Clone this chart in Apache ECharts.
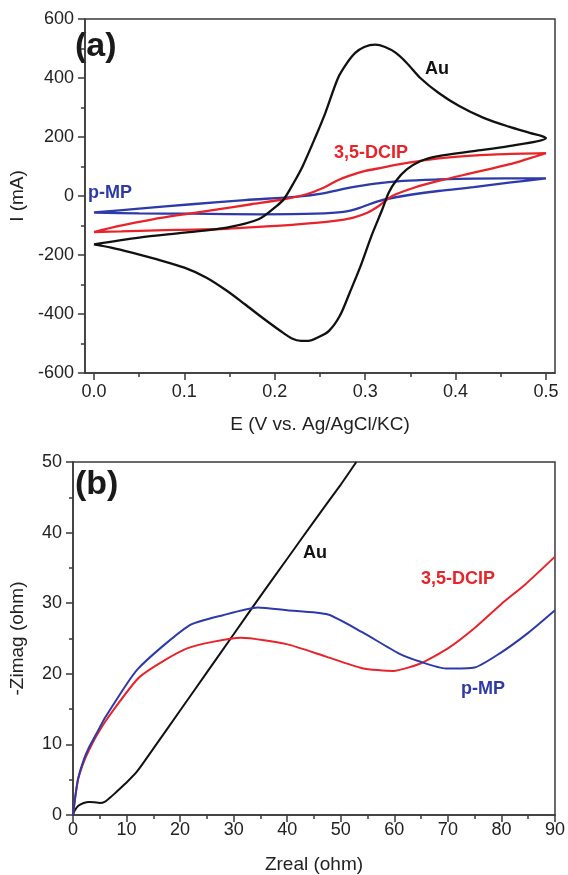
<!DOCTYPE html>
<html>
<head>
<meta charset="utf-8">
<script src="https://cdn.jsdelivr.net/npm/echarts@6/dist/echarts.min.js"></script>
<style>html,body{margin:0;padding:0;background:#fff;}#c{width:568px;height:875px;}</style>
</head>
<body>
<div id="c"></div>
<script>
// ---------- Panel (a): cyclic voltammograms ----------
const cvXTicks = [0, 0.1, 0.2, 0.3, 0.4, 0.5];
const cvXMinorTicks = [0.05, 0.15, 0.25, 0.35, 0.45];
const cvAu = [
  [0,-164],[0.05,-141],[0.1,-124],[0.147,-107],[0.182,-79],[0.202,-34],[0.21,-11],[0.221,45],[0.231,102],
  [0.245,200],[0.256,282],[0.27,400],[0.28,451],[0.289,485],[0.299,505],[0.311,513],[0.322,505],[0.334,485],
  [0.346,451],[0.361,400],[0.381,350],[0.404,305],[0.431,265],[0.459,235],[0.482,214],[0.5,197],
  [0.459,169],[0.42,152],[0.381,135],[0.361,118],[0.346,90],[0.334,51],[0.326,11],[0.319,-45],[0.307,-135],
  [0.295,-237],[0.283,-327],[0.272,-406],[0.26,-457],[0.248,-479],[0.237,-491],[0.229,-491],[0.219,-483],
  [0.206,-457],[0.186,-412],[0.167,-367],[0.147,-321],[0.124,-276],[0.1,-243],[0.069,-214],[0.042,-192],
  [0.019,-175],[0,-164]
];
const cvDCIP = [
  [0,-122],[0.028,-101],[0.065,-79],[0.1,-62],[0.137,-45],[0.174,-28],[0.21,-11],[0.235,6],[0.254,28],
  [0.268,51],[0.282,68],[0.3,85],[0.319,96],[0.337,107],[0.373,124],[0.41,135],[0.446,141],[0.5,145],
  [0.478,124],[0.459,107],[0.42,79],[0.381,51],[0.354,28],[0.33,0],[0.315,-34],[0.303,-56],[0.287,-73],
  [0.264,-85],[0.225,-96],[0.186,-104],[0.147,-111],[0.089,-115],[0.03,-120],[0,-122]
];
const cvPMP = [
  [0,-56],[0.05,-43],[0.108,-28],[0.167,-14],[0.225,-2],[0.252,8],[0.283,28],[0.311,42],[0.342,51],
  [0.381,56],[0.42,59],[0.5,60],
  [0.459,45],[0.42,30],[0.381,17],[0.342,0],[0.315,-17],[0.295,-39],[0.276,-54],[0.245,-60],[0.186,-62],
  [0.108,-60],[0.05,-59],[0,-56]
];

// ---------- Panel (b): Nyquist plots ----------
const eisAu = [
  [0,0],[0.3,0.6],[1,1.3],[2,1.7],[3,1.85],[4,1.8],[5,1.7],[6,1.9],[7,2.5],[8,3.2],[10,4.6],[12,6.2],
  [15,9.4],[20,14.8],[25,20.2],[30,25.6],[35,31.0],[40,36.3],[45,41.6],[50,46.8],[52.9,50]
];
const eisDCIP = [
  [0,0],[0.5,3],[1,5.2],[2,7.5],[3,9.2],[4,10.7],[5,12],[6,13.2],[7,14.3],[12.5,19.6],[21.3,23.6],
  [31.4,25.1],[39.9,24.2],[47,22.5],[54,20.8],[59.8,20.4],[65,21.5],[70,23.6],[75,26.5],[80,29.9],
  [84.5,32.7],[90,36.6]
];
const eisPMP = [
  [0,0],[0.5,3],[1,5.3],[2,7.8],[3,9.6],[4,11],[5,12.4],[6,13.8],[12,20.6],[21.6,26.8],[28,28.3],
  [34.5,29.4],[40,29],[47.6,28.4],[54,25.9],[60.8,22.9],[64.9,21.7],[69.6,20.75],[75,20.9],[79.7,22.9],
  [85,25.8],[90,29]
];

const BLACK = '#111111', RED = '#e8232a', BLUE = '#2d3aa8';
const FONT = 'Liberation Sans, Arial, sans-serif';
const axisCol = '#3a3a3a';
const lbl = {color:'#222', fontSize:18, fontFamily:FONT};
const nm = {color:'#222', fontSize:19, fontFamily:FONT};
const aLine = {onZero:false, lineStyle:{color:axisCol, width:1.5}};

const chart = echarts.init(document.getElementById('c'), null, {renderer:'canvas'});
chart.setOption({
  animation:false,
  backgroundColor:'#fff',
  grid:[
    {left:71, top:19, width:484, height:354, show:true, borderColor:axisCol, borderWidth:1.5, backgroundColor:'transparent'},
    {left:71, top:462, width:484, height:353, show:true, borderColor:axisCol, borderWidth:1.5, backgroundColor:'transparent'}
  ],
  xAxis:[
    {gridIndex:0, type:'value', position:'bottom', min:-0.01, max:0.51,
     name:'E (V vs. Ag/AgCl/KC)', nameLocation:'middle', nameGap:42, nameTextStyle:nm,
     axisLine:aLine,
     axisTick:{length:7, lineStyle:{color:axisCol, width:1.5}, customValues:cvXTicks},
     axisLabel:Object.assign({margin:10, customValues:cvXTicks, formatter:v=>v.toFixed(1)}, lbl),
     splitLine:{show:false}},
    {gridIndex:0, type:'value', position:'bottom', min:-0.01, max:0.51,
     axisLine:{show:false, onZero:false},
     axisTick:{length:4, lineStyle:{color:axisCol, width:1.5}, customValues:cvXMinorTicks},
     axisLabel:{show:false}, splitLine:{show:false}},
    {gridIndex:1, type:'value', position:'bottom', min:0, max:90, interval:10,
     name:'Zreal (ohm)', nameLocation:'middle', nameGap:40, nameTextStyle:nm,
     axisLine:aLine,
     axisTick:{length:7, lineStyle:{color:axisCol, width:1.5}},
     minorTick:{show:true, splitNumber:2, length:4, lineStyle:{color:axisCol, width:1.5}},
     axisLabel:Object.assign({margin:6, showMaxLabel:true, showMinLabel:true}, lbl),
     splitLine:{show:false}, minorSplitLine:{show:false}}
  ],
  yAxis:[
    {gridIndex:0, type:'value', min:-600, max:600, interval:200,
     name:'I (mA)', nameLocation:'middle', nameGap:46, nameTextStyle:nm,
     axisLine:aLine,
     axisTick:{length:7, lineStyle:{color:axisCol, width:1.5}},
     minorTick:{show:true, splitNumber:2, length:4, lineStyle:{color:axisCol, width:1.5}},
     axisLabel:Object.assign({margin:11}, lbl),
     splitLine:{show:false}, minorSplitLine:{show:false}},
    {gridIndex:1, type:'value', min:0, max:50, interval:10,
     name:'-Zimag (ohm)', nameLocation:'middle', nameGap:46, nameTextStyle:nm,
     axisLine:aLine,
     axisTick:{length:7, lineStyle:{color:axisCol, width:1.5}},
     minorTick:{show:true, splitNumber:2, length:4, lineStyle:{color:axisCol, width:1.5}},
     axisLabel:Object.assign({margin:11}, lbl),
     splitLine:{show:false}, minorSplitLine:{show:false}}
  ],
  series:[
    {type:'line', xAxisIndex:0, yAxisIndex:0, data:cvPMP, showSymbol:false, smooth:0.3, lineStyle:{color:BLUE, width:2.3}},
    {type:'line', xAxisIndex:0, yAxisIndex:0, data:cvDCIP, showSymbol:false, smooth:0.3, lineStyle:{color:RED, width:2.3}},
    {type:'line', xAxisIndex:0, yAxisIndex:0, data:cvAu, showSymbol:false, smooth:0.3, lineStyle:{color:BLACK, width:2.3}},
    {type:'line', xAxisIndex:2, yAxisIndex:1, data:eisAu, showSymbol:false, smooth:0.2, lineStyle:{color:BLACK, width:2}},
    {type:'line', xAxisIndex:2, yAxisIndex:1, data:eisDCIP, showSymbol:false, smooth:0.2, lineStyle:{color:RED, width:2}},
    {type:'line', xAxisIndex:2, yAxisIndex:1, data:eisPMP, showSymbol:false, smooth:0.2, lineStyle:{color:BLUE, width:2}}
  ],
  graphic:[
    {type:'text', left:75, top:30, style:{text:'(a)', fill:'#1a1a1a', font:'bold 34px '+FONT}},
    {type:'text', left:75, top:468, style:{text:'(b)', fill:'#1a1a1a', font:'bold 34px '+FONT}},
    {type:'text', left:425, top:60, style:{text:'Au', fill:BLACK, font:'bold 18px '+FONT}},
    {type:'text', left:334, top:144, style:{text:'3,5-DCIP', fill:RED, font:'bold 18px '+FONT}},
    {type:'text', left:88, top:184, style:{text:'p-MP', fill:BLUE, font:'bold 18px '+FONT}},
    {type:'text', left:303, top:544, style:{text:'Au', fill:BLACK, font:'bold 18px '+FONT}},
    {type:'text', left:421, top:570, style:{text:'3,5-DCIP', fill:RED, font:'bold 18px '+FONT}},
    {type:'text', left:461, top:680, style:{text:'p-MP', fill:BLUE, font:'bold 18px '+FONT}}
  ]
});
</script>
</body>
</html>
